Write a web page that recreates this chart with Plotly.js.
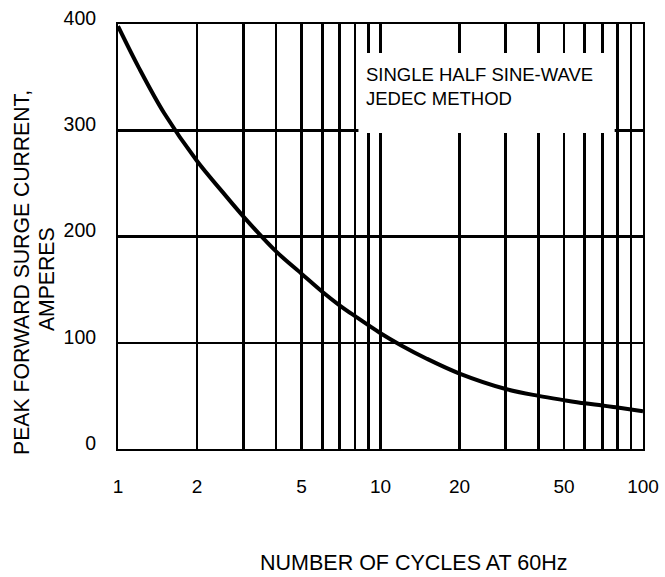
<!DOCTYPE html>
<html>
<head>
<meta charset="utf-8">
<script src="https://cdn.plot.ly/plotly-3.0.1.min.js"></script>
<style>html,body{margin:0;padding:0;background:#fff;}</style>
</head>
<body>
<div id="chart" style="width:665px;height:577px;"></div>
<script>
// Number of cycles at 60Hz
const cycles = [1, 1.2, 1.5, 2, 2.5, 3, 4, 5, 6, 7, 8, 10, 12, 15, 20, 30, 40, 50, 60, 70, 80, 90, 100];
// Peak forward surge current, amperes
const current = [398, 359, 316, 271, 242, 219, 186, 165, 148, 135, 125, 109, 97.5, 85, 71, 56.5, 50, 46, 43, 41, 39, 37.2, 35.5];

const xGridVals = [1,2,3,4,5,6,7,8,9,10,20,30,40,50,60,70,80,90,100];
const xLabelled = [1,2,5,10,20,50,100];
const xTickText = xGridVals.map(v => xLabelled.includes(v) ? String(v) : '');
const yTickVals = [0,100,200,300,400];
const yTickText = ['0','100','200','300','400'];

const FONT = 'Arial, "Liberation Sans", sans-serif';

const trace = {
  x: cycles, y: current, type: 'scatter', mode: 'lines',
  line: {color: '#000', width: 4, shape: 'spline', smoothing: 1},
  hoverinfo: 'skip', showlegend: false
};

const layout = {
  width: 665, height: 577,
  margin: {l: 118, r: 22, t: 24, b: 128},
  paper_bgcolor: '#fff', plot_bgcolor: '#fff',
  font: {family: FONT, color: '#000'},
  showlegend: false,
  xaxis: {
    type: 'log', range: [0, 2],
    tickmode: 'array', tickvals: xGridVals, ticktext: xTickText,
    showgrid: true, gridcolor: '#000', gridwidth: 2.7,
    showline: true, linecolor: '#000', linewidth: 2, mirror: true,
    ticks: '', ticklabelstandoff: 19,
    tickfont: {family: FONT, size: 19, color: '#000'},
    zeroline: false, fixedrange: true
  },
  yaxis: {
    range: [0, 400],
    tickmode: 'array', tickvals: yTickVals, ticktext: yTickText,
    showgrid: true, gridcolor: '#000', gridwidth: 2.5,
    showline: true, linecolor: '#000', linewidth: 2, mirror: true,
    ticks: '', ticklabelstandoff: 16, ticklabelshift: -6,
    tickfont: {family: FONT, size: 19.5, color: '#000'},
    zeroline: false, fixedrange: true
  },
  shapes: [{
    type: 'rect', xref: 'paper', yref: 'paper',
    x0: 0.458, x1: 0.946, y0: 0.7435, y1: 0.932,
    fillcolor: '#fff', line: {width: 0}, layer: 'above'
  }],
  annotations: [
    {xref: 'paper', yref: 'paper', x: 0.468, y: 0.852, xanchor: 'left', yanchor: 'middle',
     align: 'left', showarrow: false,
     text: 'SINGLE HALF SINE-WAVE<br>JEDEC METHOD',
     font: {family: FONT, size: 18.5, color: '#000'}},
    {xref: 'paper', yref: 'paper', x: -0.183, y: 0.4165, xanchor: 'center', yanchor: 'middle',
     textangle: -90, showarrow: false, text: 'PEAK FORWARD SURGE CURRENT,',
     font: {family: FONT, size: 21.2, color: '#000'}},
    {xref: 'paper', yref: 'paper', x: -0.137, y: 0.40, xanchor: 'center', yanchor: 'middle',
     textangle: -90, showarrow: false, text: 'AMPERES',
     font: {family: FONT, size: 21.2, color: '#000'}},
    {xref: 'paper', yref: 'paper', x: 0.562, y: -0.268, xanchor: 'center', yanchor: 'middle',
     showarrow: false, text: 'NUMBER OF CYCLES AT 60Hz',
     font: {family: FONT, size: 21.5, color: '#000'}}
  ]
};

Plotly.newPlot('chart', [trace], layout, {staticPlot: true, displayModeBar: false});
</script>
</body>
</html>
